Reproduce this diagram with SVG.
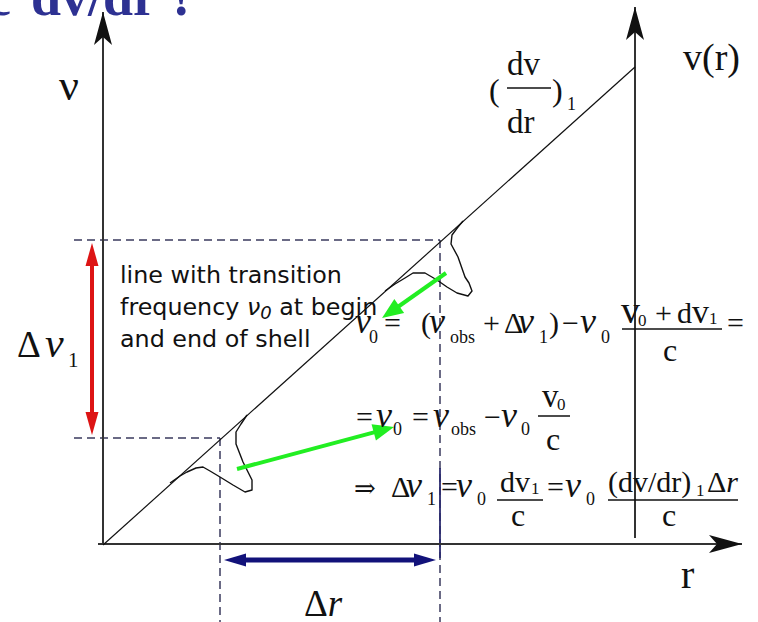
<svg xmlns="http://www.w3.org/2000/svg" width="758" height="622" viewBox="0 0 758 622">
<style>
.serif{font-family:"Liberation Serif","DejaVu Serif",serif;fill:#111}
.it{font-style:italic}
.nu{font-style:italic;font-size:36px}
.sans{font-family:"DejaVu Sans","Liberation Sans",sans-serif;fill:#111}
.axis{stroke:#333;stroke-width:2;fill:none}
.dash{stroke:#3a3a5e;stroke-width:1.5;stroke-dasharray:8 5;fill:none}
.prof{stroke:#111;stroke-width:1.4;fill:none;stroke-linejoin:round}
.bar{stroke:#111;stroke-width:1.5}
</style>
<defs>
<marker id="axHead" viewBox="-34 -10 36 20" refX="0" refY="0" markerWidth="36" markerHeight="20" markerUnits="userSpaceOnUse" orient="auto">
<path d="M0,0 L-33,-9 L-25,0 L-33,9 Z" fill="#111"/>
</marker>
<marker id="redHead" viewBox="-8 -8 26 16" refX="0" refY="0" markerWidth="26" markerHeight="16" markerUnits="userSpaceOnUse" orient="auto-start-reverse">
<path d="M16,0 L-7,-6.5 L-7,6.5 Z" fill="#dd1414"/>
</marker>
<marker id="navyHead" viewBox="-11 -8 24 16" refX="0" refY="0" markerWidth="24" markerHeight="16" markerUnits="userSpaceOnUse" orient="auto-start-reverse">
<path d="M12,0 L-10,-6.5 L-10,6.5 Z" fill="#12127a"/>
</marker>
<marker id="greenHead" viewBox="-8 -10 24 20" refX="0" refY="0" markerWidth="24" markerHeight="20" markerUnits="userSpaceOnUse" orient="auto">
<path d="M14,0 L-7,-8.5 L-7,8.5 Z" fill="#22ee22"/>
</marker>
</defs>
<rect width="758" height="622" fill="#fff"/>

<g id="title">
<text font-family="'Liberation Serif',serif" font-weight="bold" font-size="54" fill="#2d3192" y="15"><tspan x="-13">c</tspan><tspan x="31">dv/dr ?</tspan></text>
</g>

<g id="guides">
<path class="dash" d="M74,240 H440 M440,240 V622 M74,438 H220 M220,438 V622"/>
<path d="M440,468 V558" stroke="#2a2a6e" stroke-width="1.8"/>
</g>

<g id="axes">
<line class="axis" x1="103" y1="545" x2="103" y2="12" marker-end="url(#axHead)"/>
<line class="axis" x1="98" y1="544" x2="742" y2="544" marker-end="url(#axHead)"/>
<line class="axis" x1="635" y1="538" x2="635" y2="7" marker-end="url(#axHead)"/>
<line x1="103" y1="545" x2="635" y2="67" stroke="#111" stroke-width="1.2"/>
</g>

<g id="profiles">
<path class="prof" d="M385,291 L395,284 L405,278 L413,273 L425,273 L437,280 L447,287 L457,293 L468,296 L472,291 L469,283 L465,277 L458,257 L451,244 L452,235 L458,227 L463,221"/>
<path class="prof" d="M170,483 L180,476 L187,472 L196,468 L203,467 L210,471 L220,477 L233,485 L245,492 L252,490 L252,480 L243,462 L236,444 L236,432 L241,424 L247,415"/>
</g>

<g id="connectors">
<line x1="92" y1="259" x2="92" y2="419" stroke="#dd1414" stroke-width="4" marker-start="url(#redHead)" marker-end="url(#redHead)"/>
<line x1="236" y1="560" x2="424" y2="560" stroke="#12127a" stroke-width="5" marker-start="url(#navyHead)" marker-end="url(#navyHead)"/>
<line x1="446" y1="273" x2="393.5" y2="310" stroke="#22ee22" stroke-width="4" marker-end="url(#greenHead)"/>
<line x1="237" y1="469" x2="380.5" y2="430.6" stroke="#22ee22" stroke-width="4" marker-end="url(#greenHead)"/>
</g>

<g id="labels">
<text class="serif" x="59" y="100" font-size="44">ν</text>
<text class="serif" x="683" y="70" font-size="38">v(r)</text>
<text class="serif" x="489" y="101" font-size="32">(</text>
<text class="serif" x="507" y="75" font-size="33">dv</text>
<line class="bar" x1="507" y1="88" x2="551" y2="88"/>
<text class="serif" x="507" y="133" font-size="33">dr</text>
<text class="serif" x="552" y="101" font-size="32">)</text>
<text class="serif" x="567" y="110" font-size="18">1</text>
<text class="serif" x="17" y="357" font-size="37">Δ<tspan class="it" x="45" font-size="42">ν</tspan><tspan x="68" y="367" font-size="21">1</tspan></text>
<text class="serif" x="304" y="616" font-size="37">Δ<tspan class="it">r</tspan></text>
<text class="serif" x="681" y="588" font-size="40">r</text>
</g>

<g id="note">
<text class="sans" font-size="23.8"><tspan x="120" y="283">line with transition</tspan><tspan x="120" y="315">frequency <tspan class="it">ν</tspan><tspan class="it" font-size="18" dy="4">0</tspan><tspan dy="-4"> at begin</tspan></tspan><tspan x="120" y="347">and end of shell</tspan></text>
</g>

<g id="eq1" class="serif" font-size="30">
<text x="355" y="333" class="serif nu">ν</text>
<text x="369" y="343" class="serif" font-size="18">0</text>
<text x="384" y="333" class="serif">=</text>
<text x="421" y="333" class="serif">(</text>
<text x="429" y="333" class="serif nu">ν</text>
<text x="450" y="343" class="serif" font-size="18">obs</text>
<text x="483" y="333" class="serif">+</text>
<text x="504" y="333" class="serif">Δ</text>
<text x="518" y="333" class="serif nu">ν</text>
<text x="539" y="343" class="serif" font-size="18">1</text>
<text x="549" y="333" class="serif">)</text>
<text x="562" y="333" class="serif">−</text>
<text x="580" y="333" class="serif nu">ν</text>
<text x="601" y="343" class="serif" font-size="18">0</text>
<text x="621" y="323" class="serif" font-size="38">v</text>
<text x="638" y="326" class="serif" font-size="17">0</text>
<text x="655" y="323" class="serif">+</text>
<text x="677" y="323" class="serif">d<tspan font-size="34">v</tspan></text>
<text x="709" y="324" class="serif" font-size="17">1</text>
<line class="bar" x1="622" y1="329" x2="722" y2="329"/>
<text x="663" y="361" class="serif" font-size="32">c</text>
<text x="727" y="333" class="serif">=</text>
</g>

<g id="eq2" class="serif" font-size="30">
<text x="356" y="427" class="serif">=</text>
<text x="376" y="427" class="serif nu">ν</text>
<text x="393" y="435" class="serif" font-size="18">0</text>
<text x="412" y="427" class="serif">=</text>
<text x="433" y="427" class="serif nu">ν</text>
<text x="451" y="435" class="serif" font-size="18">obs</text>
<text x="484" y="427" class="serif">−</text>
<text x="501" y="427" class="serif nu">ν</text>
<text x="521" y="435" class="serif" font-size="18">0</text>
<text x="542" y="407" class="serif" font-size="33">v</text>
<text x="557" y="410" class="serif" font-size="17">0</text>
<line class="bar" x1="538" y1="416" x2="570" y2="416"/>
<text x="546" y="450" class="serif" font-size="32">c</text>
</g>

<g id="eq3" class="serif" font-size="30">
<text x="354" y="497" class="serif" font-size="26">⇒</text>
<text x="391" y="497" class="serif">Δ</text>
<text x="406" y="497" class="serif nu">ν</text>
<text x="427" y="505" class="serif" font-size="18">1</text>
<text x="441" y="497" class="serif">=</text>
<text x="456" y="497" class="serif nu">ν</text>
<text x="477" y="505" class="serif" font-size="18">0</text>
<text x="500" y="492" class="serif">dv</text>
<text x="531" y="494" class="serif" font-size="17">1</text>
<line class="bar" x1="497" y1="500" x2="543" y2="500"/>
<text x="511" y="526" class="serif" font-size="32">c</text>
<text x="547" y="497" class="serif">=</text>
<text x="565" y="497" class="serif nu">ν</text>
<text x="586" y="505" class="serif" font-size="18">0</text>
<text x="608" y="492" class="serif">(dv/dr)</text>
<text x="696" y="496" class="serif" font-size="17">1</text>
<text x="707" y="492" class="serif">Δ<tspan class="it">r</tspan></text>
<line class="bar" x1="608" y1="500" x2="738" y2="500"/>
<text x="662" y="526" class="serif" font-size="32">c</text>
</g>
</svg>
